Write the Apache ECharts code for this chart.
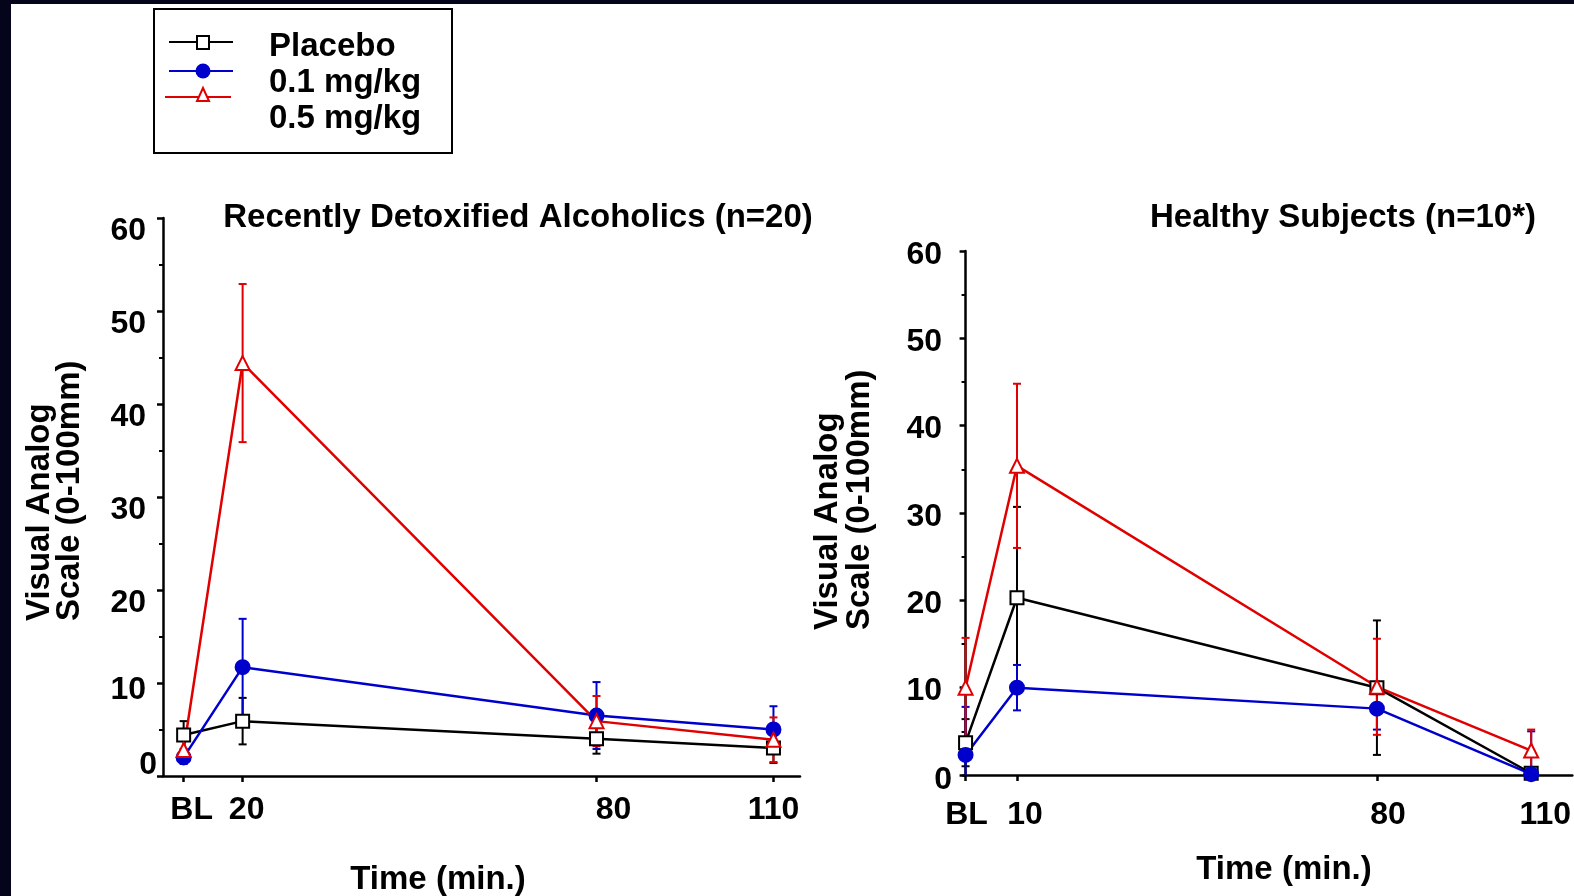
<!DOCTYPE html>
<html><head><meta charset="utf-8">
<script src="https://cdn.jsdelivr.net/npm/echarts@6/dist/echarts.min.js"></script>
<style>html,body{margin:0;padding:0;background:#fff}#c{width:1574px;height:896px}</style>
</head><body><div id="c"></div>
<script>
// ---------- data ----------
// x positions (minutes); BL (baseline) is drawn just before the first post-dose time
const alcTimes = [10, 20, 80, 110];
const alcTickLabels = ['BL', '20', '80', '110'];
const hsTimes = [0, 10, 80, 110];
const hsTickLabels = ['BL', '10', '80', '110'];
const yTicks = [0, 10, 20, 30, 40, 50, 60];

// Recently Detoxified Alcoholics (n=20)
const alcPlacebo    = [4.4, 5.9, 4.0, 3.0];
const alcPlaceboErr = [1.5, 2.5, 1.6, 1.6];
const alcLow        = [2.0, 11.7, 6.5, 5.0];
const alcLowErr     = [0.7, 5.2, 3.6, 2.5];
const alcHigh       = [2.8, 44.4, 5.9, 3.9];
const alcHighErr    = [1.0, 8.5, 2.7, 2.4];

// Healthy Subjects (n=10*)
const hsPlacebo    = [3.7, 20.3, 10.0, 0.2];
const hsPlaceboErr = [2.7, 10.4, 7.7, 0];
const hsLow        = [2.3, 10.0, 7.6, 0.1];
const hsLowErr     = [5.5, 2.6, 2.4, 4.9];
const hsHigh       = [10.0, 35.4, 10.1, 2.8];
const hsHighErr    = [5.7, 9.4, 5.5, 2.4];

const seriesNames = ['Placebo', '0.1 mg/kg', '0.5 mg/kg'];

// ---------- styling ----------
const FONT = '"Liberation Sans", Arial, sans-serif';
const BLACK = '#000000', BLUE = '#0000cc', RED = '#e00000';
const base = {fontSize: 32, fontWeight: 'bold', fontFamily: FONT, color: '#000'};

function pairs(xs, ys) { return xs.map((x, i) => [x, ys[i]]); }
function triples(xs, ys, es) { return xs.map((x, i) => [x, ys[i], es[i]]); }

function errSeries(idx, xs, ys, es, color) {
  return {
    type: 'custom', xAxisIndex: idx, yAxisIndex: idx, silent: true, z: 2,
    data: triples(xs, ys, es), encode: {x: 0, y: 1},
    renderItem(params, api) {
      const x = api.value(0), y = api.value(1), e = api.value(2);
      if (!e) return null;
      const hi = y + e, lo = Math.max(0, y - e);
      const pH = api.coord([x, hi]), pL = api.coord([x, lo]);
      const cap = 4, st = {stroke: color, lineWidth: 2};
      const ch = [
        {type: 'line', shape: {x1: pH[0], y1: pH[1], x2: pL[0], y2: pL[1]}, style: st},
        {type: 'line', shape: {x1: pH[0] - cap, y1: pH[1], x2: pH[0] + cap, y2: pH[1]}, style: st}
      ];
      if (y - e > 0) ch.push({type: 'line', shape: {x1: pL[0] - cap, y1: pL[1], x2: pL[0] + cap, y2: pL[1]}, style: st});
      return {type: 'group', children: ch};
    }
  };
}
function lineSeries(idx, name, xs, ys, color, symbol, size, fill) {
  return {
    type: 'line', name, xAxisIndex: idx, yAxisIndex: idx, z: 2,
    data: pairs(xs, ys), symbol, symbolSize: size, showSymbol: true,
    lineStyle: {color, width: 2.5}, itemStyle: {color: fill, borderColor: color, borderWidth: 2},
    emphasis: {disabled: true}
  };
}

function xAxis(idx, times, labels, min, max, margin, shifts) {
  const rich = {};
  shifts.forEach((s, i) => { rich['p' + i] = Object.assign({}, base, {padding: s > 0 ? [0, 0, 0, 2 * s] : [0, 0, 0, 0]}); });
  return {
    type: 'value', gridIndex: idx, min, max,
    axisLine: {show: true, onZero: false, lineStyle: {color: '#000', width: 2.5}},
    axisTick: {show: true, customValues: times, length: 6, lineStyle: {color: '#000', width: 2.5}},
    axisLabel: {customValues: times, margin, ...base,
      formatter: v => { const i = times.indexOf(v); return '{p' + i + '|' + labels[i] + '}'; }, rich},
    splitLine: {show: false}
  };
}
function yAxis(idx, margin, rich, fmt) {
  return {
    type: 'value', gridIndex: idx, min: 0, max: 60, interval: 10,
    axisLine: {show: true, lineStyle: {color: '#000', width: 2.5}},
    axisTick: {show: true, length: 6, lineStyle: {color: '#000', width: 2.5}},
    minorTick: {show: true, splitNumber: 2, length: 4, lineStyle: {color: '#000', width: 2}},
    splitLine: {show: false},
    axisLabel: {margin, ...base, formatter: fmt, rich}
  };
}

const leftRich = {
  z: Object.assign({}, base, {padding: [0, 0, 22, 0]}),
  t: Object.assign({}, base, {padding: [14, 11, 0, 0]}),
  n: Object.assign({}, base, {padding: [26, 11, 0, 0]})
};
const rightRich = {
  z: Object.assign({}, base, {padding: [10, 0, 0, 0]}),
  n: Object.assign({}, base, {padding: [8, 10, 0, 0]})
};

function txt(x, y, text, rot, align) {
  return {type: 'text', x, y, rotation: rot || 0, z: 20,
    style: {text, font: 'bold 33px ' + FONT, fill: '#000',
      textAlign: align || 'center', textVerticalAlign: 'middle', align: align || 'center', verticalAlign: 'middle'}};
}

const graphics = [
  {type: 'rect', shape: {x: 0, y: 0, width: 1574, height: 4}, style: {fill: '#04041a'}, z: 30},
  {type: 'rect', shape: {x: 0, y: 0, width: 11, height: 896}, style: {fill: '#04041a'}, z: 30},
  // legend box
  {type: 'rect', shape: {x: 154, y: 9, width: 298, height: 144}, style: {fill: '#fff', stroke: '#000', lineWidth: 2}, z: 10},
  {type: 'line', shape: {x1: 169, y1: 42, x2: 233, y2: 42}, style: {stroke: BLACK, lineWidth: 2}, z: 11},
  {type: 'rect', shape: {x: 197, y: 36, width: 12, height: 13}, style: {fill: '#fff', stroke: BLACK, lineWidth: 2}, z: 12},
  {type: 'line', shape: {x1: 169, y1: 71, x2: 233, y2: 71}, style: {stroke: BLUE, lineWidth: 2}, z: 11},
  {type: 'circle', shape: {cx: 203, cy: 71, r: 7.5}, style: {fill: BLUE}, z: 12},
  {type: 'line', shape: {x1: 165, y1: 97, x2: 231, y2: 97}, style: {stroke: RED, lineWidth: 2}, z: 11},
  {type: 'polygon', shape: {points: [[203, 88], [197, 101], [209, 101]]}, style: {fill: '#fff', stroke: RED, lineWidth: 2}, z: 12},
  txt(269, 47, seriesNames[0], 0, 'left'),
  txt(269, 83, seriesNames[1], 0, 'left'),
  txt(269, 119, seriesNames[2], 0, 'left'),
  // titles
  txt(518, 218, 'Recently Detoxified Alcoholics (n=20)'),
  txt(1343, 218, 'Healthy Subjects (n=10*)'),
  txt(438, 880, 'Time (min.)'),
  txt(1284, 870, 'Time (min.)'),
  txt(40, 621, 'Visual Analog', Math.PI / 2, 'left'),
  txt(70, 621, 'Scale (0-100mm)', Math.PI / 2, 'left'),
  txt(828, 630, 'Visual Analog', Math.PI / 2, 'left'),
  txt(860, 630, 'Scale (0-100mm)', Math.PI / 2, 'left')
];

const option = {
  animation: false,
  backgroundColor: '#ffffff',
  grid: [
    {left: 163, top: 218, right: 774, bottom: 120},
    {left: 963, top: 251, right: 0, bottom: 121}
  ],
  xAxis: [
    xAxis(0, alcTimes, alcTickLabels, 6.5, 114.5, 18, [8, 4, 17, 0]),
    xAxis(1, hsTimes, hsTickLabels, -0.5, 118, 24, [1, 8, 11, 14])
  ],
  yAxis: [
    yAxis(0, 6, leftRich, v => v === 0 ? '{z|0}' : (v === 10 ? '{t|10}' : '{n|' + v + '}')),
    yAxis(1, 11, rightRich, v => v === 0 ? '{z|0}' : '{n|' + v + '}')
  ],
  series: [
    errSeries(0, alcTimes, alcPlacebo, alcPlaceboErr, BLACK),
    lineSeries(0, seriesNames[0], alcTimes, alcPlacebo, BLACK, 'rect', 13, '#fff'),
    errSeries(0, alcTimes, alcLow, alcLowErr, BLUE),
    lineSeries(0, seriesNames[1], alcTimes, alcLow, BLUE, 'circle', 14, BLUE),
    errSeries(0, alcTimes, alcHigh, alcHighErr, RED),
    lineSeries(0, seriesNames[2], alcTimes, alcHigh, RED, 'triangle', 14, '#fff'),
    errSeries(1, hsTimes, hsPlacebo, hsPlaceboErr, BLACK),
    lineSeries(1, seriesNames[0], hsTimes, hsPlacebo, BLACK, 'rect', 13, '#fff'),
    errSeries(1, hsTimes, hsLow, hsLowErr, BLUE),
    lineSeries(1, seriesNames[1], hsTimes, hsLow, BLUE, 'circle', 14, BLUE),
    errSeries(1, hsTimes, hsHigh, hsHighErr, RED),
    lineSeries(1, seriesNames[2], hsTimes, hsHigh, RED, 'triangle', 14, '#fff')
  ],
  graphic: graphics
};

const chart = echarts.init(document.getElementById('c'), null, {renderer: 'canvas'});
chart.setOption(option);
</script>
</body></html>
